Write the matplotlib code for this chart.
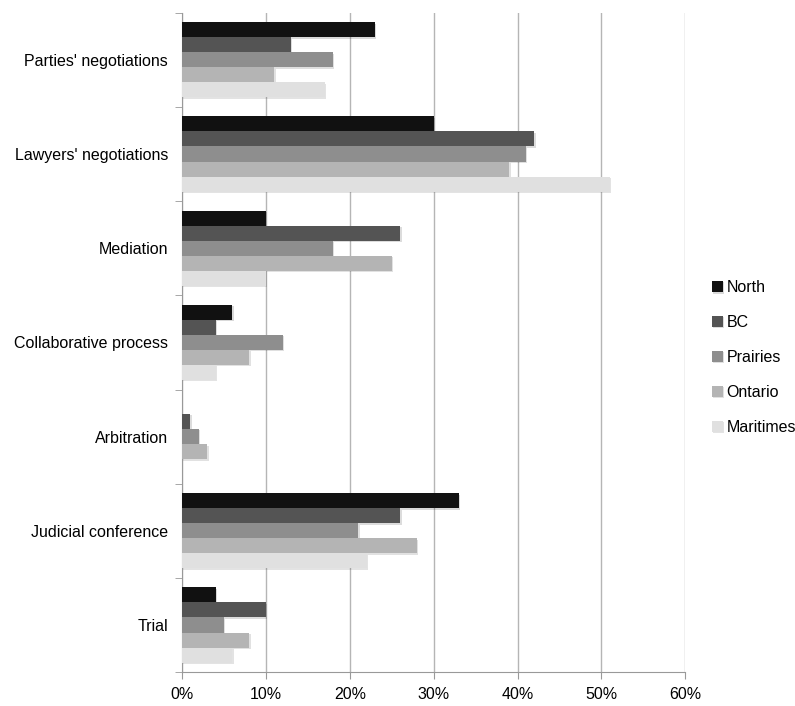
import numpy as np
import matplotlib.pyplot as plt
import matplotlib.patheffects as pe

plt.rcParams['font.family'] = ['Liberation Sans', 'DejaVu Sans']

categories = ["Parties' negotiations", "Lawyers' negotiations", 'Mediation',
              'Collaborative process', 'Arbitration', 'Judicial conference', 'Trial']
regions = ['North', 'BC', 'Prairies', 'Ontario', 'Maritimes']
north = [23, 30, 10, 6, 0, 33, 4]
bc = [13, 42, 26, 4, 1, 26, 10]
prairies = [18, 41, 18, 12, 2, 21, 5]
ontario = [11, 39, 25, 8, 3, 28, 8]
maritimes = [17, 51, 10, 4, 0, 22, 6]
colors = ['#111111', '#545454', '#8e8e8e', '#b4b4b4', '#e0e0e0']

series = [north, bc, prairies, ontario, maritimes]

fig = plt.figure(figsize=(7.95, 7.06), dpi=100)
ax = fig.add_axes([0.229, 0.048, 0.633, 0.934])

y = np.arange(len(categories))
h = 0.16
shadow = [pe.SimplePatchShadow(offset=(1, -1), alpha=0.15), pe.Normal()]
for i, (vals, name, col) in enumerate(zip(series, regions, colors)):
    bars = ax.barh(y - 0.32 + i * h, vals, height=h, color=col, label=name,
                   edgecolor='none', zorder=3)
    for b in bars:
        b.set_path_effects(shadow)

ax.set_xlim(0, 60)
ax.set_ylim(len(categories) - 0.5, -0.5)
ax.set_xticks(np.arange(0, 61, 10))
ax.set_xticklabels([str(v) + '%' for v in range(0, 61, 10)], fontsize=11.5)
ax.set_yticks(y)
ax.set_yticklabels(categories, fontsize=11.5)
ax.tick_params(axis='y', length=0, pad=10)
ax.set_yticks(np.arange(-0.5, len(categories)), minor=True)
ax.tick_params(axis='y', which='minor', length=5, color='#999999')
ax.tick_params(axis='x', length=5, color='#999999', pad=6)
ax.grid(axis='x', color='#b5b5b5', linewidth=1, zorder=0)
for s in ['top', 'right']:
    ax.spines[s].set_visible(False)
for s in ['left', 'bottom']:
    ax.spines[s].set_color('#999999')

ax.legend(loc='center left', bbox_to_anchor=(1.03, 0.477), frameon=False,
          fontsize=11.5, handlelength=0.7, handleheight=0.7, handletextpad=0.25,
          labelspacing=1.25, borderaxespad=0.3)

fig.savefig('out.png', dpi=100)
